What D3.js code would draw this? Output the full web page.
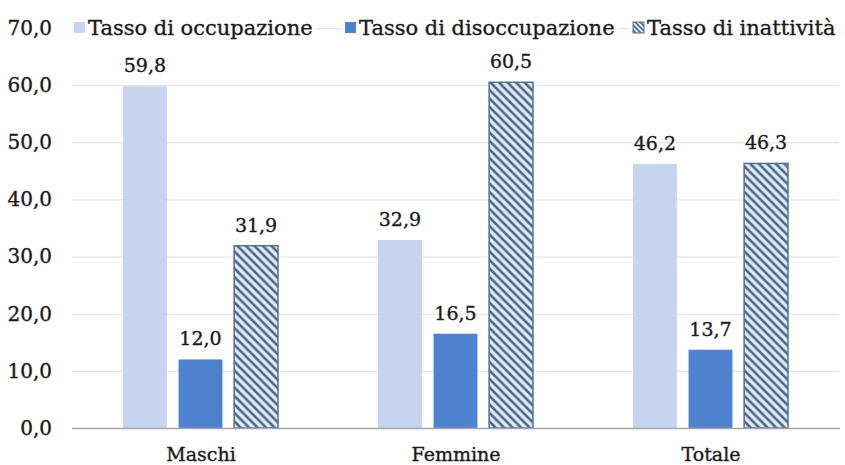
<!DOCTYPE html>
<html>
<head>
<meta charset="utf-8">
<script src="https://cdn.jsdelivr.net/npm/d3@7"></script>
<style>
  html, body { margin: 0; padding: 0; background: #fff; }
  svg { display: block; }
  text { font-family: "DejaVu Serif", "Liberation Serif", serif; fill: #1a1a1a; stroke: #1a1a1a; stroke-width: 0.35px; }
</style>
</head>
<body>
<svg id="chart" width="845" height="465"></svg>
<script>
const categories = ["Maschi", "Femmine", "Totale"];
const seriesNames = ["Tasso di occupazione", "Tasso di disoccupazione", "Tasso di inattività"];
const occupazione = [59.8, 32.9, 46.2];
const disoccupazione = [12.0, 16.5, 13.7];
const inattivita = [31.9, 60.5, 46.3];
const yTicks = [0, 10, 20, 30, 40, 50, 60, 70];

const seriesValues = [occupazione, disoccupazione, inattivita];
const colors = ["#c4d5ed", "#4e81ce", "url(#hatch)"];

const svg = d3.select("#chart");
const fmt = v => d3.format(".1f")(v).replace(".", ",");

const defs = svg.append("defs");
const pat = defs.append("pattern")
  .attr("id", "hatch").attr("patternUnits", "userSpaceOnUse")
  .attr("width", 8.5).attr("height", 8.5);
pat.append("rect").attr("width", 8.5).attr("height", 8.5).attr("fill", "#ddedfa");
pat.append("path").attr("d", "M0,0L8.5,8.5M-2,6.5L2,10.5M6.5,-2L10.5,2")
  .attr("stroke", "#4f6989").attr("stroke-width", 2.6);

const pat2 = defs.append("pattern")
  .attr("id", "hatchS").attr("patternUnits", "userSpaceOnUse")
  .attr("width", 5).attr("height", 5);
pat2.append("rect").attr("width", 5).attr("height", 5).attr("fill", "#ddedfa");
pat2.append("path").attr("d", "M0,0L5,5M-1,4L1,6M4,-1L6,1")
  .attr("stroke", "#4f6989").attr("stroke-width", 1.6);

const left = 72, right = 839;
const y = d3.scaleLinear().domain([0, 70]).range([428, 28]);
const x = d3.scaleBand().domain(categories).range([73.5, 838.5]).padding(0);
const xs = d3.scaleBand().domain(seriesNames).range([50, 205]).paddingInner(0.21);

// y axis + gridlines
const yAxis = svg.append("g")
  .attr("transform", `translate(${left},0)`)
  .call(d3.axisLeft(y).tickValues(yTicks).tickFormat(fmt)
    .tickSize(-(right - left)).tickPadding(20));
yAxis.select(".domain").remove();
yAxis.selectAll(".tick line").attr("stroke", "#dedede").attr("stroke-width", 1);
yAxis.selectAll(".tick text").attr("font-size", 20).attr("fill", "#1a1a1a")
  .attr("font-family", "DejaVu Serif");

const barData = [];
seriesNames.forEach((s, si) => {
  categories.forEach((c, ci) => {
    barData.push({ cat: c, series: s, si: si, value: seriesValues[si][ci] });
  });
});

// bars
svg.append("g").selectAll("rect").data(barData).join("rect")
  .attr("x", d => x(d.cat) + xs(d.series) - 0.5)
  .attr("y", d => y(d.value))
  .attr("width", xs.bandwidth())
  .attr("height", d => y(0) - y(d.value))
  .attr("fill", d => colors[d.si])
  .attr("stroke", d => d.si === 2 ? "#56708f" : "none")
  .attr("stroke-width", d => d.si === 2 ? 1.5 : 0);

// value labels
svg.append("g").selectAll("text").data(barData).join("text")
  .attr("x", d => x(d.cat) + xs(d.series) - 0.5 + xs.bandwidth() / 2)
  .attr("y", d => y(d.value) - 14)
  .attr("text-anchor", "middle")
  .attr("font-size", 19)
  .text(d => fmt(d.value));

// x axis
const xAxis = svg.append("g")
  .attr("transform", `translate(0,${y(0)})`)
  .call(d3.axisBottom(x).tickSize(0).tickPadding(20));
xAxis.select(".domain").attr("stroke", "#a6a6a6").attr("stroke-width", 1.3)
  .attr("d", `M${left},0.5H${right + 1}`);
xAxis.selectAll(".tick text").attr("font-size", 19).attr("fill", "#1a1a1a")
  .attr("font-family", "DejaVu Serif");

// legend
const legendX = [74, 345, 633];
const legend = svg.append("g");
seriesNames.forEach((s, i) => {
  const g = legend.append("g").attr("transform", `translate(${legendX[i]},0)`);
  const t = g.append("text").attr("x", 14).attr("y", 35).attr("font-size", 21).text(s);
  const w = t.node().getComputedTextLength();
  g.insert("rect", "text").attr("x", -4).attr("y", 16).attr("width", w + 22).attr("height", 24).attr("fill", "#fff");
  g.append("rect").attr("x", 0).attr("y", 22).attr("width", 11).attr("height", 11)
    .attr("fill", i === 2 ? "url(#hatchS)" : colors[i])
    .attr("stroke", i === 2 ? "#56708f" : "none").attr("stroke-width", 1);
});
</script>
</body>
</html>
